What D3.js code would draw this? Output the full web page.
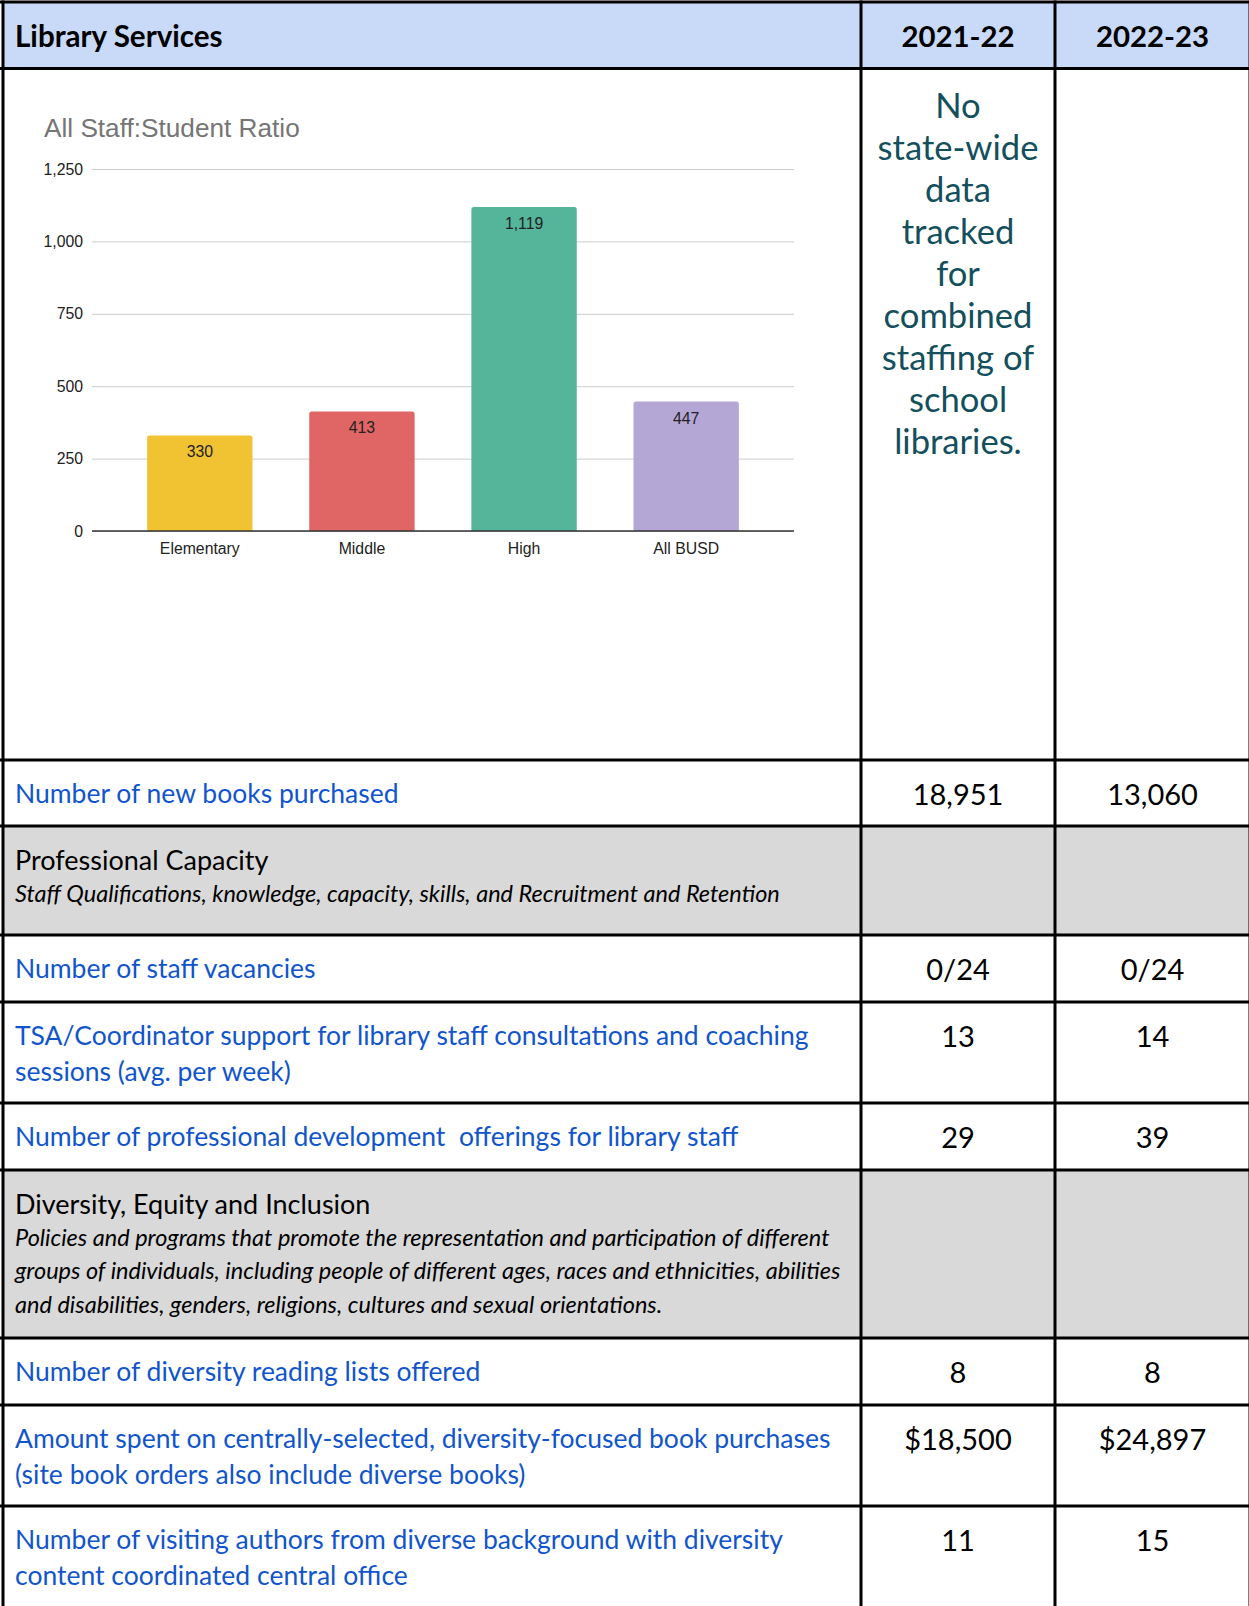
<!DOCTYPE html>
<html>
<head>
<meta charset="utf-8">
<script src="https://cdn.jsdelivr.net/npm/d3@7"></script>
<style>
  html, body { margin: 0; padding: 0; background: #fff; }
  svg { display: block; }
</style>
</head>
<body>
<div id="page"></div>
<script>
// chart data
var categories = ["Elementary", "Middle", "High", "All BUSD"];
var ratios = [330, 413, 1119, 447];
var barColors = ["#f1c232", "#e06666", "#55b59a", "#b4a7d6"];
var yTicks = [0, 250, 500, 750, 1000, 1250];

// table data
var years = ["2021-22", "2022-23"];
var noteLines = ["No", "state-wide", "data", "tracked", "for", "combined", "staffing of", "school", "libraries."];
var rowKinds = ["metric", "section", "metric", "metric", "metric", "section", "metric", "metric", "metric"];
var rowLabels = [
  ["Number of new books purchased"],
  ["Professional Capacity"],
  ["Number of staff vacancies"],
  ["TSA/Coordinator support for library staff consultations and coaching", "sessions (avg. per week)"],
  ["Number of professional development  offerings for library staff"],
  ["Diversity, Equity and Inclusion"],
  ["Number of diversity reading lists offered"],
  ["Amount spent on centrally-selected, diversity-focused book purchases", "(site book orders also include diverse books)"],
  ["Number of visiting authors from diverse background with diversity", "content coordinated central office"]
];
var rowNotes = [
  [], ["Staff Qualifications, knowledge, capacity, skills, and Recruitment and Retention"], [], [], [],
  ["Policies and programs that promote the representation and participation of different",
   "groups of individuals, including people of different ages, races and ethnicities, abilities",
   "and disabilities, genders, religions, cultures and sexual orientations."],
  [], [], []
];
var values2122 = ["18,951", "", "0/24", "13", "29", "", "8", "$18,500", "11"];
var values2223 = ["13,060", "", "0/24", "14", "39", "", "8", "$24,897", "15"];

// layout
var W = 1249, H = 1606;
var colX = [3, 861, 1055, 1250];
var headerTop = 2, headerBottom = 68.5;
var rowEdges = [760, 826, 935, 1002, 1103, 1170, 1338, 1405, 1506, 1640];
var lato = "Lato, 'Open Sans', sans-serif";
var arial = "'Liberation Sans', Arial, sans-serif";

var svg = d3.select("#page").append("svg")
  .attr("width", W).attr("height", H);

// header background
svg.append("rect")
  .attr("x", colX[0]).attr("y", headerTop)
  .attr("width", W).attr("height", headerBottom - headerTop)
  .attr("fill", "#c9daf8");

// section row backgrounds
rowKinds.forEach(function(k, i){
  if(k === "section"){
    svg.append("rect")
      .attr("x", colX[0]).attr("y", rowEdges[i])
      .attr("width", W).attr("height", rowEdges[i + 1] - rowEdges[i])
      .attr("fill", "#d9d9d9");
  }
});

// header text
svg.append("text")
  .attr("x", 15).attr("y", (headerTop + headerBottom) / 2)
  .attr("dominant-baseline", "central")
  .style("font-family", lato).style("font-weight", 700).style("font-size", "29.6px")
  .attr("fill", "#000")
  .text("Library Services");

years.forEach(function(y, i){
  svg.append("text")
    .attr("x", (colX[i + 1] + colX[i + 2]) / 2).attr("y", (headerTop + headerBottom) / 2)
    .attr("text-anchor", "middle").attr("dominant-baseline", "central")
    .style("font-family", lato).style("font-weight", 700).style("font-size", "29.4px")
    .attr("fill", "#000")
    .text(y);
});

// note in chart row
svg.append("g").selectAll("text")
  .data(noteLines)
  .enter()
  .append("text")
  .attr("x", (colX[1] + colX[2]) / 2)
  .attr("y", function(d, i){ return 104.5 + i * 42; })
  .attr("text-anchor", "middle").attr("dominant-baseline", "central")
  .style("font-family", lato).style("font-size", "34.6px")
  .attr("fill", "#134f5c")
  .text(function(d){ return d; });

// ---- bar chart ----
var chart = svg.append("g");
var x = d3.scaleBand()
  .domain(categories)
  .range([92, 794])
  .paddingInner(0.35)
  .paddingOuter(0.34);
var y = d3.scaleLinear()
  .domain([0, 1250])
  .range([531, 169]);

chart.append("text")
  .attr("x", 44).attr("y", 128)
  .attr("dominant-baseline", "central")
  .style("font-family", arial).style("font-size", "26.2px")
  .attr("fill", "#757575")
  .text("All Staff:Student Ratio");

var yAxis = chart.append("g")
  .attr("transform", "translate(92,0)")
  .call(d3.axisLeft(y).tickValues(yTicks).tickSize(-702).tickFormat(d3.format(",")));
yAxis.select(".domain").remove();
yAxis.selectAll(".tick line").attr("stroke", "#cccccc");
yAxis.selectAll(".tick text")
  .attr("x", -9)
  .style("font-family", arial).style("font-size", "15.8px")
  .attr("fill", "#222");

chart.selectAll("path.bar")
  .data(ratios)
  .enter()
  .append("path")
  .attr("class", "bar")
  .attr("fill", function(d, i){ return barColors[i]; })
  .attr("d", function(d, i){
    var x0 = x(categories[i]), w = x.bandwidth(), y0 = y(d), y1 = y(0), r = 2.5;
    return "M" + x0 + "," + y1 + "V" + (y0 + r) + "Q" + x0 + "," + y0 + " " + (x0 + r) + "," + y0 +
      "H" + (x0 + w - r) + "Q" + (x0 + w) + "," + y0 + " " + (x0 + w) + "," + (y0 + r) + "V" + y1 + "Z";
  });

chart.selectAll("text.val")
  .data(ratios)
  .enter()
  .append("text")
  .attr("class", "val")
  .attr("x", function(d, i){ return x(categories[i]) + x.bandwidth() / 2; })
  .attr("y", function(d){ return y(d) + 16.5; })
  .attr("text-anchor", "middle").attr("dominant-baseline", "central")
  .style("font-family", arial).style("font-size", "15.8px")
  .attr("fill", "#222")
  .text(d3.format(","));

chart.append("line")
  .attr("x1", 92).attr("x2", 794)
  .attr("y1", y(0)).attr("y2", y(0))
  .attr("stroke", "#333").attr("stroke-width", 1.3);

var xAxis = chart.append("g")
  .attr("transform", "translate(0," + y(0) + ")")
  .call(d3.axisBottom(x).tickSize(0));
xAxis.select(".domain").remove();
xAxis.selectAll(".tick text")
  .attr("dy", 0).attr("y", 17).attr("dominant-baseline", "central")
  .style("font-family", arial).style("font-size", "15.8px")
  .attr("fill", "#222");

// ---- table rows ----
rowKinds.forEach(function(k, i){
  var top = rowEdges[i];
  var g = svg.append("g");
  rowLabels[i].forEach(function(t, j){
    g.append("text")
      .attr("x", 15).attr("y", top + 33 + j * 36)
      .attr("dominant-baseline", "central")
      .style("font-family", lato).style("font-size", k === "section" ? "27px" : "26.5px")
      .attr("fill", k === "section" ? "#000" : "#1155cc")
      .style("white-space", "pre")
      .text(t);
  });
  rowNotes[i].forEach(function(t, j){
    g.append("text")
      .attr("x", 15).attr("y", top + 66.5 + j * 33.5)
      .attr("dominant-baseline", "central")
      .style("font-family", lato).style("font-style", "italic").style("font-size", "23.5px")
      .attr("fill", "#000")
      .text(t);
  });
  [values2122[i], values2223[i]].forEach(function(v, j){
    if(!v) return;
    g.append("text")
      .attr("x", (colX[j + 1] + colX[j + 2]) / 2).attr("y", top + 33)
      .attr("text-anchor", "middle").attr("dominant-baseline", "central")
      .style("font-family", lato).style("font-size", "29px")
      .attr("fill", "#000")
      .text(v);
  });
});

// ---- grid lines ----
var hLines = [headerTop, headerBottom].concat(rowEdges.slice(0, -1));
svg.append("g").selectAll("line")
  .data(hLines)
  .enter()
  .append("line")
  .attr("x1", 0).attr("x2", W)
  .attr("y1", function(d){ return d; }).attr("y2", function(d){ return d; })
  .attr("stroke", "#000").attr("stroke-width", 3);

svg.append("g").selectAll("line")
  .data(colX)
  .enter()
  .append("line")
  .attr("x1", function(d){ return d; }).attr("x2", function(d){ return d; })
  .attr("y1", headerTop - 1.5).attr("y2", H)
  .attr("stroke", "#000").attr("stroke-width", 3);
</script>
</body>
</html>
